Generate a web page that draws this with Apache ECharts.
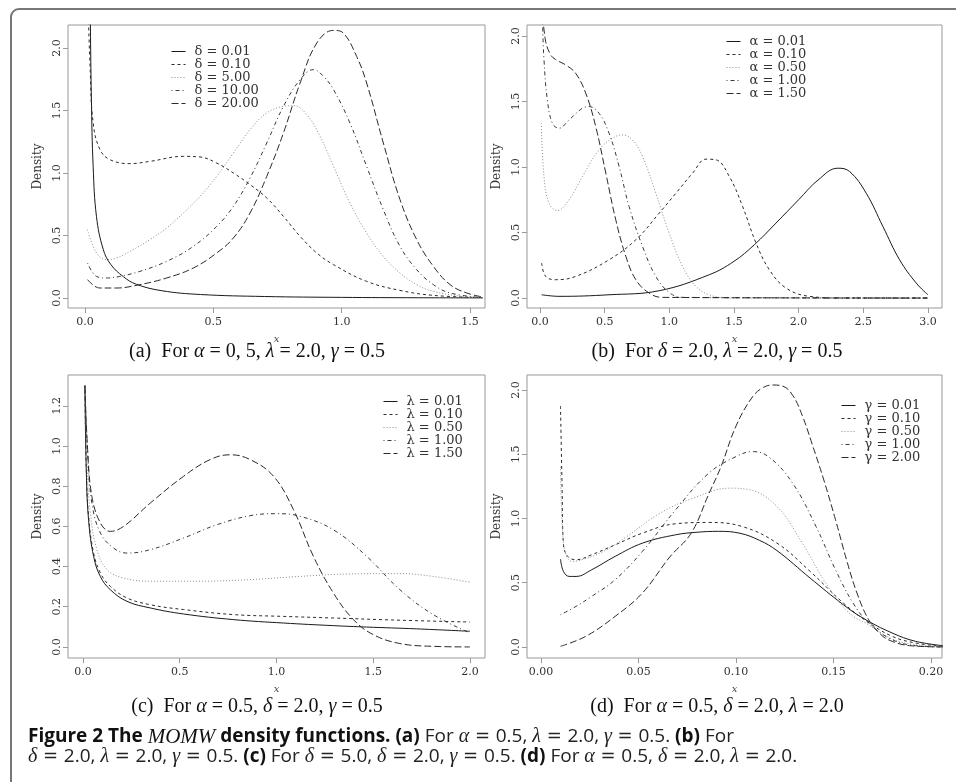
<!DOCTYPE html>
<html>
<head>
<meta charset="UTF-8">
<title>MOMW density functions</title>
<style>
  * { margin: 0; padding: 0; }
  body { background: #fff; }
  #main { width: 956px; height: 782px; }
</style>
<script src="https://cdn.jsdelivr.net/npm/echarts@6/dist/echarts.min.js"></script>
</head>
<body>
<div id="main"></div>
<script>
// ---- data ----
// (a) alpha = 0.5, lambda = 2.0, gamma = 0.5, varying delta
var namesA = ['δ = 0.01', 'δ = 0.10', 'δ = 5.00', 'δ = 10.00', 'δ = 20.00'];
var xTicksA = [0, 0.5, 1.0, 1.5];
var yTicksA = [0, 0.5, 1.0, 1.5, 2.0];
var aD001 = [[0.01,4.0],[0.02,2.4],[0.025,1.6],[0.032,1.05],[0.045,0.65],[0.071,0.39],[0.1,0.27],[0.15,0.17],[0.2,0.11],[0.3,0.058],[0.45,0.028],[0.7,0.012],[1.0,0.005],[1.3,0.002],[1.55,0.001]];
var aD010 = [[0.01,2.5],[0.02,1.85],[0.032,1.4],[0.058,1.19],[0.097,1.107],[0.175,1.075],[0.253,1.093],[0.383,1.133],[0.448,1.128],[0.513,1.08],[0.578,1.0],[0.643,0.907],[0.708,0.8],[0.773,0.653],[0.838,0.493],[0.903,0.36],[0.968,0.267],[1.097,0.133],[1.227,0.061],[1.357,0.021],[1.55,0.003]];
var aD500 = [[0.01,0.547],[0.045,0.36],[0.084,0.307],[0.123,0.32],[0.188,0.387],[0.253,0.467],[0.318,0.56],[0.383,0.68],[0.448,0.813],[0.513,0.973],[0.578,1.16],[0.643,1.347],[0.708,1.48],[0.773,1.533],[0.812,1.539],[0.864,1.467],[0.916,1.293],[0.968,1.053],[1.032,0.76],[1.097,0.52],[1.162,0.333],[1.227,0.2],[1.292,0.107],[1.357,0.053],[1.487,0.008],[1.55,0.001]];
var aD1000 = [[0.01,0.28],[0.045,0.173],[0.084,0.16],[0.136,0.173],[0.214,0.213],[0.318,0.293],[0.422,0.413],[0.513,0.573],[0.578,0.733],[0.643,0.96],[0.708,1.24],[0.773,1.533],[0.838,1.747],[0.89,1.827],[0.929,1.773],[0.968,1.667],[1.032,1.4],[1.097,1.053],[1.162,0.707],[1.227,0.413],[1.292,0.227],[1.357,0.107],[1.422,0.04],[1.55,0.003]];
var aD2000 = [[0.01,0.147],[0.058,0.08],[0.123,0.08],[0.214,0.107],[0.318,0.16],[0.422,0.24],[0.513,0.36],[0.578,0.48],[0.643,0.68],[0.708,0.973],[0.773,1.32],[0.838,1.72],[0.903,2.04],[0.968,2.141],[1.006,2.12],[1.058,1.933],[1.097,1.72],[1.162,1.24],[1.227,0.787],[1.292,0.467],[1.357,0.253],[1.422,0.107],[1.487,0.04],[1.55,0.008]];

// (b) delta = 2.0, lambda = 2.0, gamma = 0.5, varying alpha
var namesB = ['α = 0.01', 'α = 0.10', 'α = 0.50', 'α = 1.00', 'α = 1.50'];
var xTicksB = [0, 0.5, 1.0, 1.5, 2.0, 2.5, 3.0];
var yTicksB = [0, 0.5, 1.0, 1.5, 2.0];
var bA001 = [[0.013,0.025],[0.147,0.013],[0.534,0.025],[0.922,0.056],[1.309,0.178],[1.5,0.28],[1.658,0.407],[1.825,0.572],[2.0,0.75],[2.15,0.9],[2.303,0.991],[2.394,0.966],[2.523,0.8],[2.652,0.546],[2.781,0.292],[2.91,0.114],[3.0,0.025]];
var bA010 = [[0.013,0.267],[0.044,0.165],[0.121,0.14],[0.276,0.165],[0.534,0.292],[0.741,0.445],[0.922,0.648],[1.051,0.8],[1.18,0.953],[1.283,1.06],[1.361,1.055],[1.464,0.928],[1.567,0.699],[1.671,0.419],[1.774,0.216],[1.903,0.076],[2.084,0.013],[2.342,0.0],[3.0,0.0]];
var bA050 = [[0.01,1.334],[0.031,0.928],[0.07,0.724],[0.134,0.668],[0.225,0.75],[0.328,0.928],[0.457,1.131],[0.56,1.22],[0.638,1.245],[0.715,1.207],[0.793,1.08],[0.896,0.8],[0.999,0.496],[1.103,0.241],[1.206,0.089],[1.309,0.025],[1.464,0.0],[3.0,0.0]];
var bA100 = [[0.01,2.6],[0.02,2.1],[0.031,1.817],[0.057,1.512],[0.096,1.334],[0.147,1.296],[0.225,1.36],[0.328,1.449],[0.38,1.461],[0.457,1.41],[0.534,1.258],[0.612,1.004],[0.689,0.699],[0.793,0.394],[0.896,0.165],[0.999,0.043],[1.103,0.005],[3.0,0.0]];
var bA150 = [[0.01,2.3],[0.04,1.98],[0.08,1.86],[0.121,1.82],[0.199,1.779],[0.276,1.715],[0.354,1.563],[0.431,1.309],[0.509,0.953],[0.586,0.597],[0.664,0.318],[0.741,0.14],[0.844,0.038],[0.948,0.005],[3.0,0.0]];

// (c) alpha = 0.5, delta = 2.0, gamma = 0.5, varying lambda
var namesC = ['λ = 0.01', 'λ = 0.10', 'λ = 0.50', 'λ = 1.00', 'λ = 1.50'];
var xTicksC = [0, 0.5, 1.0, 1.5, 2.0];
var yTicksC = [0, 0.2, 0.4, 0.6, 0.8, 1.0, 1.2];
var cL001 = [[0.01,1.3],[0.017,0.88],[0.029,0.63],[0.055,0.45],[0.09,0.35],[0.141,0.285],[0.227,0.227],[0.348,0.194],[0.52,0.164],[0.778,0.136],[1.036,0.119],[1.294,0.106],[1.466,0.099],[1.724,0.09],[2.0,0.078]];
var cL010 = [[0.01,1.3],[0.017,0.89],[0.029,0.65],[0.055,0.467],[0.09,0.368],[0.141,0.302],[0.227,0.244],[0.348,0.21],[0.52,0.186],[0.778,0.161],[1.036,0.152],[1.294,0.144],[1.638,0.133],[2.0,0.124]];
var cL050 = [[0.01,1.3],[0.021,0.915],[0.038,0.666],[0.072,0.484],[0.124,0.385],[0.21,0.343],[0.348,0.327],[0.606,0.327],[0.864,0.335],[1.122,0.351],[1.38,0.363],[1.638,0.365],[1.81,0.351],[2.0,0.322]];
var cL100 = [[0.01,1.3],[0.024,0.965],[0.046,0.716],[0.09,0.567],[0.158,0.492],[0.227,0.467],[0.348,0.484],[0.52,0.542],[0.692,0.608],[0.864,0.653],[1.001,0.663],[1.122,0.65],[1.294,0.583],[1.466,0.451],[1.638,0.285],[1.81,0.161],[2.0,0.07]];
var cL150 = [[0.01,1.3],[0.024,0.981],[0.046,0.749],[0.09,0.617],[0.141,0.575],[0.21,0.6],[0.348,0.716],[0.52,0.849],[0.657,0.932],[0.761,0.956],[0.864,0.932],[0.985,0.849],[1.088,0.683],[1.191,0.451],[1.294,0.269],[1.398,0.136],[1.501,0.061],[1.638,0.017],[1.81,0.003],[2.0,0.0]];

// (d) alpha = 0.5, delta = 2.0, lambda = 2.0, varying gamma
var namesD = ['γ = 0.01', 'γ = 0.10', 'γ = 0.50', 'γ = 1.00', 'γ = 2.00'];
var xTicksD = [0, 0.05, 0.10, 0.15, 0.20];
var yTicksD = [0, 0.5, 1.0, 1.5, 2.0];
var dG001 = [[0.01,0.684],[0.0115,0.588],[0.0145,0.549],[0.018,0.549],[0.026,0.601],[0.038,0.705],[0.052,0.808],[0.069,0.873],[0.08,0.893],[0.091,0.9],[0.102,0.885],[0.112,0.83],[0.121,0.75],[0.138,0.536],[0.155,0.329],[0.165,0.225],[0.18,0.109],[0.192,0.044],[0.206,0.01]];
var dG010 = [[0.01,1.876],[0.0108,1.249],[0.0115,0.8],[0.0137,0.705],[0.018,0.679],[0.026,0.718],[0.038,0.795],[0.052,0.886],[0.069,0.959],[0.086,0.969],[0.103,0.938],[0.121,0.808],[0.138,0.588],[0.155,0.342],[0.167,0.2],[0.18,0.083],[0.192,0.031],[0.206,0.005]];
var dG050 = [[0.01,1.404],[0.011,0.912],[0.0128,0.718],[0.016,0.666],[0.021,0.679],[0.032,0.744],[0.044,0.86],[0.061,1.041],[0.078,1.158],[0.097,1.236],[0.107,1.223],[0.121,1.093],[0.134,0.808],[0.146,0.497],[0.158,0.264],[0.167,0.181],[0.18,0.062],[0.192,0.018],[0.206,0.005]];
var dG100 = [[0.01,0.251],[0.018,0.316],[0.026,0.394],[0.038,0.523],[0.052,0.744],[0.069,1.067],[0.086,1.352],[0.1,1.482],[0.1085,1.521],[0.117,1.477],[0.129,1.275],[0.141,0.938],[0.151,0.601],[0.16,0.342],[0.168,0.187],[0.18,0.057],[0.192,0.01],[0.206,0.0]];
var dG200 = [[0.01,0.005],[0.023,0.083],[0.038,0.238],[0.052,0.42],[0.066,0.7],[0.077,0.886],[0.086,1.19],[0.0923,1.404],[0.1,1.72],[0.1085,1.948],[0.114,2.02],[0.119,2.039],[0.124,2.03],[0.129,1.96],[0.134,1.8],[0.139,1.58],[0.145,1.3],[0.151,0.99],[0.157,0.66],[0.162,0.42],[0.168,0.212],[0.174,0.1],[0.179,0.05],[0.189,0.01],[0.206,0.0]];

// ---- styling ----
var serif = "'DejaVu Serif', 'Liberation Serif', serif";
var lineKinds = [
  { type: 'solid', color: '#1a1a1a' },
  { type: [3, 3], color: '#2a2a2a' },
  { type: [1, 2], color: '#8a8a8a' },
  { type: [1, 3, 4, 3], color: '#3a3a3a' },
  { type: [7, 3], color: '#2a2a2a' }
];

var panels = [
  { names: namesA, data: [aD001, aD010, aD500, aD1000, aD2000], xt: xTicksA, yt: yTicksA,
    grid: { left: 68, top: 25, width: 417, height: 283 }, x: [-0.066, 1.558], y: [-0.08, 2.184],
    xd: 1, legend: { left: 166, top: 40 } },
  { names: namesB, data: [bA001, bA010, bA050, bA100, bA150], xt: xTicksB, yt: yTicksB,
    grid: { left: 527, top: 25, width: 415, height: 283 }, x: [-0.1005, 3.109], y: [-0.076, 2.084],
    xd: 1, legend: { left: 721, top: 30 } },
  { names: namesC, data: [cL001, cL010, cL050, cL100, cL150], xt: xTicksC, yt: yTicksC,
    grid: { left: 68, top: 375, width: 417, height: 283 }, x: [-0.0775, 2.078], y: [-0.055, 1.353],
    xd: 1, legend: { left: 378, top: 390 } },
  { names: namesD, data: [dG001, dG010, dG050, dG100, dG200], xt: xTicksD, yt: yTicksD,
    grid: { left: 527, top: 375, width: 415, height: 283 }, x: [-0.00718, 0.2056], y: [-0.086, 2.117],
    xd: 2, legend: { left: 836, top: 394 } }
];

var grids = [], xAxes = [], yAxes = [], legends = [], series = [];
panels.forEach(function (p, i) {
  grids.push(Object.assign({ show: true, borderColor: '#999', borderWidth: 1, containLabel: false }, p.grid));
  xAxes.push({
    type: 'value', gridIndex: i, min: p.x[0], max: p.x[1],
    name: 'x', nameLocation: 'middle', nameGap: 26,
    nameTextStyle: { fontFamily: serif, fontStyle: 'italic', fontSize: 10, color: '#444' },
    axisLine: { show: false, onZero: false },
    axisTick: { show: true, length: 5, lineStyle: { color: '#999' }, customValues: p.xt },
    axisLabel: { fontFamily: serif, fontSize: 11, color: '#333', margin: 9, customValues: p.xt,
      formatter: function (v) { return v.toFixed(p.xd); } },
    splitLine: { show: false }
  });
  yAxes.push({
    type: 'value', gridIndex: i, min: p.y[0], max: p.y[1],
    name: 'Density', nameLocation: 'middle', nameGap: 24,
    nameTextStyle: { fontFamily: serif, fontSize: 12, color: '#333' },
    axisLine: { show: false, onZero: false },
    axisTick: { show: true, length: 5, lineStyle: { color: '#999' }, customValues: p.yt },
    axisLabel: { fontFamily: serif, fontSize: 11, color: '#333', rotate: 90, margin: 5, customValues: p.yt,
      formatter: function (v) { return v.toFixed(1); } },
    splitLine: { show: false }
  });
  legends.push({
    left: p.legend.left, top: p.legend.top, orient: 'vertical',
    data: p.names, selectedMode: false,
    itemWidth: 14, itemHeight: 12, itemGap: 0,
    itemStyle: { opacity: 0, borderWidth: 0 },
    lineStyle: { width: 1 },
    textStyle: { fontFamily: serif, fontSize: 13, lineHeight: 12, color: '#333', padding: [0, 0, 0, 4] }
  });
  p.data.forEach(function (d, k) {
    series.push({
      type: 'line', name: p.names[k], xAxisIndex: i, yAxisIndex: i,
      data: d, symbol: 'none', showSymbol: false,
      smooth: 0.4, clip: true,
      lineStyle: { width: 1, type: lineKinds[k].type, color: lineKinds[k].color },
      itemStyle: { color: lineKinds[k].color },
      silent: true
    });
  });
});

var capSerif = "'Liberation Serif', serif";
function caption(x, y, text) {
  return {
    type: 'text', x: x, y: y, silent: true,
    style: {
      text: text, textAlign: 'center', textVerticalAlign: 'middle',
      fontFamily: capSerif, fontSize: 20, fill: '#111',
      rich: { i: { fontFamily: capSerif, fontSize: 20, fontStyle: 'italic', fill: '#111' } }
    }
  };
}

var sans = "'Open Sans', 'Noto Sans', sans-serif";
var figRich = {
  b: { fontFamily: sans, fontSize: 19, fontWeight: 'bold', fill: '#111' },
  r: { fontFamily: sans, fontSize: 19, fill: '#222' },
  e: { fontFamily: "'DejaVu Serif', serif", fontSize: 18, fill: '#222' },
  g: { fontFamily: capSerif, fontSize: 20, fontStyle: 'italic', fill: '#222' },
  s: { fontFamily: capSerif, fontSize: 21, fontStyle: 'italic', fill: '#111' }
};

var chart = echarts.init(document.getElementById('main'), null, { renderer: 'canvas' });
chart.setOption({
  animation: false,
  backgroundColor: '#fff',
  grid: grids,
  xAxis: xAxes,
  yAxis: yAxes,
  legend: legends,
  series: series,
  graphic: [
    { type: 'rect', silent: true, shape: { x: 11, y: 9, width: 1000, height: 1000, r: 8 },
      style: { fill: 'none', stroke: '#777', lineWidth: 2 } },
    caption(257, 352, '(a)  For {i|α} = 0, 5, {i|λ} = 2.0, {i|γ} = 0.5'),
    caption(717, 352, '(b)  For {i|δ} = 2.0, {i|λ} = 2.0, {i|γ} = 0.5'),
    caption(257, 707, '(c)  For {i|α} = 0.5, {i|δ} = 2.0, {i|γ} = 0.5'),
    caption(717, 707, '(d)  For {i|α} = 0.5, {i|δ} = 2.0, {i|λ} = 2.0'),
    { type: 'text', x: 28, y: 737, silent: true,
      style: { textVerticalAlign: 'middle', rich: figRich,
        text: '{b|Figure 2 The }{s|MOMW}{b| density functions. (a)}{r| For }{g|α}{e| = }{r|0.5, }{g|λ}{e| = }{r|2.0, }{g|γ}{e| = }{r|0.5. }{b|(b)}{r| For}' } },
    { type: 'text', x: 28, y: 757, silent: true,
      style: { textVerticalAlign: 'middle', rich: figRich,
        text: '{g|δ}{e| = }{r|2.0, }{g|λ}{e| = }{r|2.0, }{g|γ}{e| = }{r|0.5. }{b|(c)}{r| For }{g|δ}{e| = }{r|5.0, }{g|δ}{e| = }{r|2.0, }{g|γ}{e| = }{r|0.5. }{b|(d)}{r| For }{g|α}{e| = }{r|0.5, }{g|δ}{e| = }{r|2.0, }{g|λ}{e| = }{r|2.0.}' } }
  ]
});
</script>
</body>
</html>
